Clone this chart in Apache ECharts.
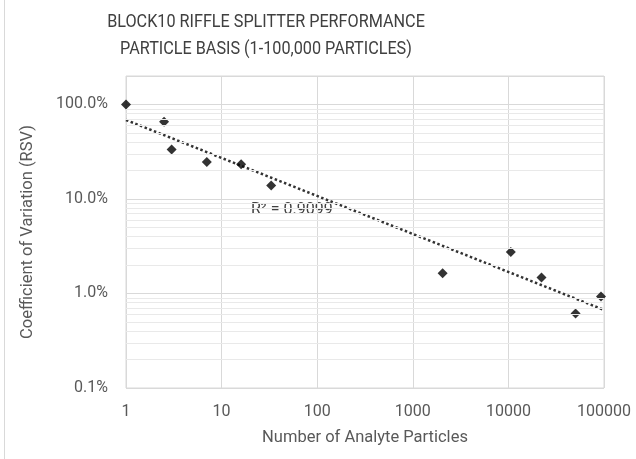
<!DOCTYPE html>
<html>
<head>
<meta charset="utf-8">
<script src="https://cdn.jsdelivr.net/npm/echarts@6/dist/echarts.min.js"></script>
<style>
  html, body { margin: 0; padding: 0; background: #fff; }
  #chart { width: 636px; height: 459px; }
</style>
</head>
<body>
<div id="chart"></div>
<script>
// number of analyte particles and the measured RSV (in percent)
var particles = [1, 2.5, 3, 7, 16, 33, 2050, 10600, 22200, 50400, 93000];
var rsv = [100, 65.5, 33.4, 24.6, 23.3, 13.9, 1.64, 2.75, 1.48, 0.615, 0.93];
var xTicks = [1, 10, 100, 1000, 10000, 100000];
var yTicks = [0.1, 1, 10, 100];
var minorSteps = [2, 3, 4, 5, 6, 7, 8, 9];

// power trendline: least squares in log-log space
var lx = particles.map(function (v) { return Math.log10(v); });
var ly = rsv.map(function (v) { return Math.log10(v); });
var mx = lx.reduce(function (a, b) { return a + b; }, 0) / lx.length;
var my = ly.reduce(function (a, b) { return a + b; }, 0) / ly.length;
var sxy = 0, sxx = 0;
for (var i = 0; i < lx.length; i++) {
  sxy += (lx[i] - mx) * (ly[i] - my);
  sxx += (lx[i] - mx) * (lx[i] - mx);
}
var slope = sxy / sxx;
var icpt = my - slope * mx;
var xMin = xTicks[0], xMax = xTicks[xTicks.length - 1];
var trend = [xMin, xMax].map(function (x) {
  return [x, Math.pow(10, icpt + slope * Math.log10(x))];
});

// minor gridlines like excel (2..9 of each decade)
var minorLines = [];
yTicks.forEach(function (d) {
  minorSteps.forEach(function (m) {
    if (d * m < 200) minorLines.push({ yAxis: d * m });
  });
});

function isDecade(v) {
  var e = Math.log10(v);
  return Math.abs(e - Math.round(e)) < 1e-6;
}

var txt = '#595959';
var font = 'Roboto';

var myChart = echarts.init(document.getElementById('chart'));
var option = {
  backgroundColor: '#fff',
  animation: false,
  graphic: [
    {
      type: 'line',
      shape: { x1: 4.5, y1: 0, x2: 4.5, y2: 459 },
      style: { stroke: '#d9d9d9', lineWidth: 1 }
    },
    {
      // title, squeezed a bit to look like the narrow excel font
      type: 'text',
      x: 266,
      y: 9,
      scaleX: 0.9,
      style: {
        text: 'BLOCK10 RIFFLE SPLITTER PERFORMANCE\nPARTICLE BASIS (1-100,000 PARTICLES)',
        textAlign: 'center',
        textVerticalAlign: 'top',
        fontFamily: font,
        fontSize: 18,
        lineHeight: 27,
        fill: '#404040'
      }
    },
    {
      type: 'text',
      left: 251,
      top: 202,
      style: {
        text: 'R² = 0.9099',
        fontFamily: font,
        fontSize: 16,
        fill: '#404040'
      }
    }
  ],
  grid: {
    left: 126,
    right: 32,
    top: 76,
    bottom: 71,
    show: true,
    borderColor: '#d9d9d9',
    borderWidth: 1
  },
  xAxis: {
    type: 'log',
    logBase: 10,
    min: xMin,
    max: xMax,
    interval: 1,
    name: 'Number of Analyte Particles',
    nameLocation: 'middle',
    nameGap: 41,
    nameTextStyle: { fontFamily: font, fontSize: 16.5, color: txt },
    axisLine: { show: false },
    axisTick: { show: false },
    axisLabel: {
      margin: 16,
      fontFamily: font,
      fontSize: 16,
      color: txt,
      formatter: function (v) { return isDecade(v) ? String(Math.round(v)) : ''; }
    },
    splitLine: { show: true, lineStyle: { color: '#d9d9d9', width: 1 } }
  },
  yAxis: {
    type: 'log',
    logBase: 10,
    min: 0.1,
    max: 200,
    interval: 1,
    name: 'Coefficient of Variation (RSV)',
    nameLocation: 'middle',
    nameGap: 90,
    nameTextStyle: { fontFamily: font, fontSize: 16.5, color: txt },
    axisLine: { show: false },
    axisTick: { show: false },
    axisLabel: {
      margin: 18,
      fontFamily: font,
      fontSize: 16,
      color: txt,
      formatter: function (v) { return isDecade(v) ? v.toFixed(1) + '%' : ''; }
    },
    splitLine: { show: true, lineStyle: { color: '#d9d9d9', width: 1 } }
  },
  series: [
    {
      type: 'line',
      data: [],
      z: 1,
      silent: true,
      markLine: {
        silent: true,
        symbol: 'none',
        animation: false,
        label: { show: false },
        lineStyle: { color: '#e9e9e9', width: 1, type: 'solid' },
        data: minorLines
      }
    },
    {
      name: 'trend',
      type: 'line',
      data: trend,
      z: 3,
      symbol: 'none',
      silent: true,
      lineStyle: { color: '#333333', width: 2.5, type: [2.5, 2.5] }
    },
    {
      name: 'RSV',
      type: 'scatter',
      z: 4,
      symbol: 'diamond',
      symbolSize: 10,
      itemStyle: { color: '#000000' },
      data: particles.map(function (p, i) { return [p, rsv[i]]; })
    }
  ]
};
myChart.setOption(option);
window.addEventListener('resize', function () { myChart.resize(); });
</script>
</body>
</html>
